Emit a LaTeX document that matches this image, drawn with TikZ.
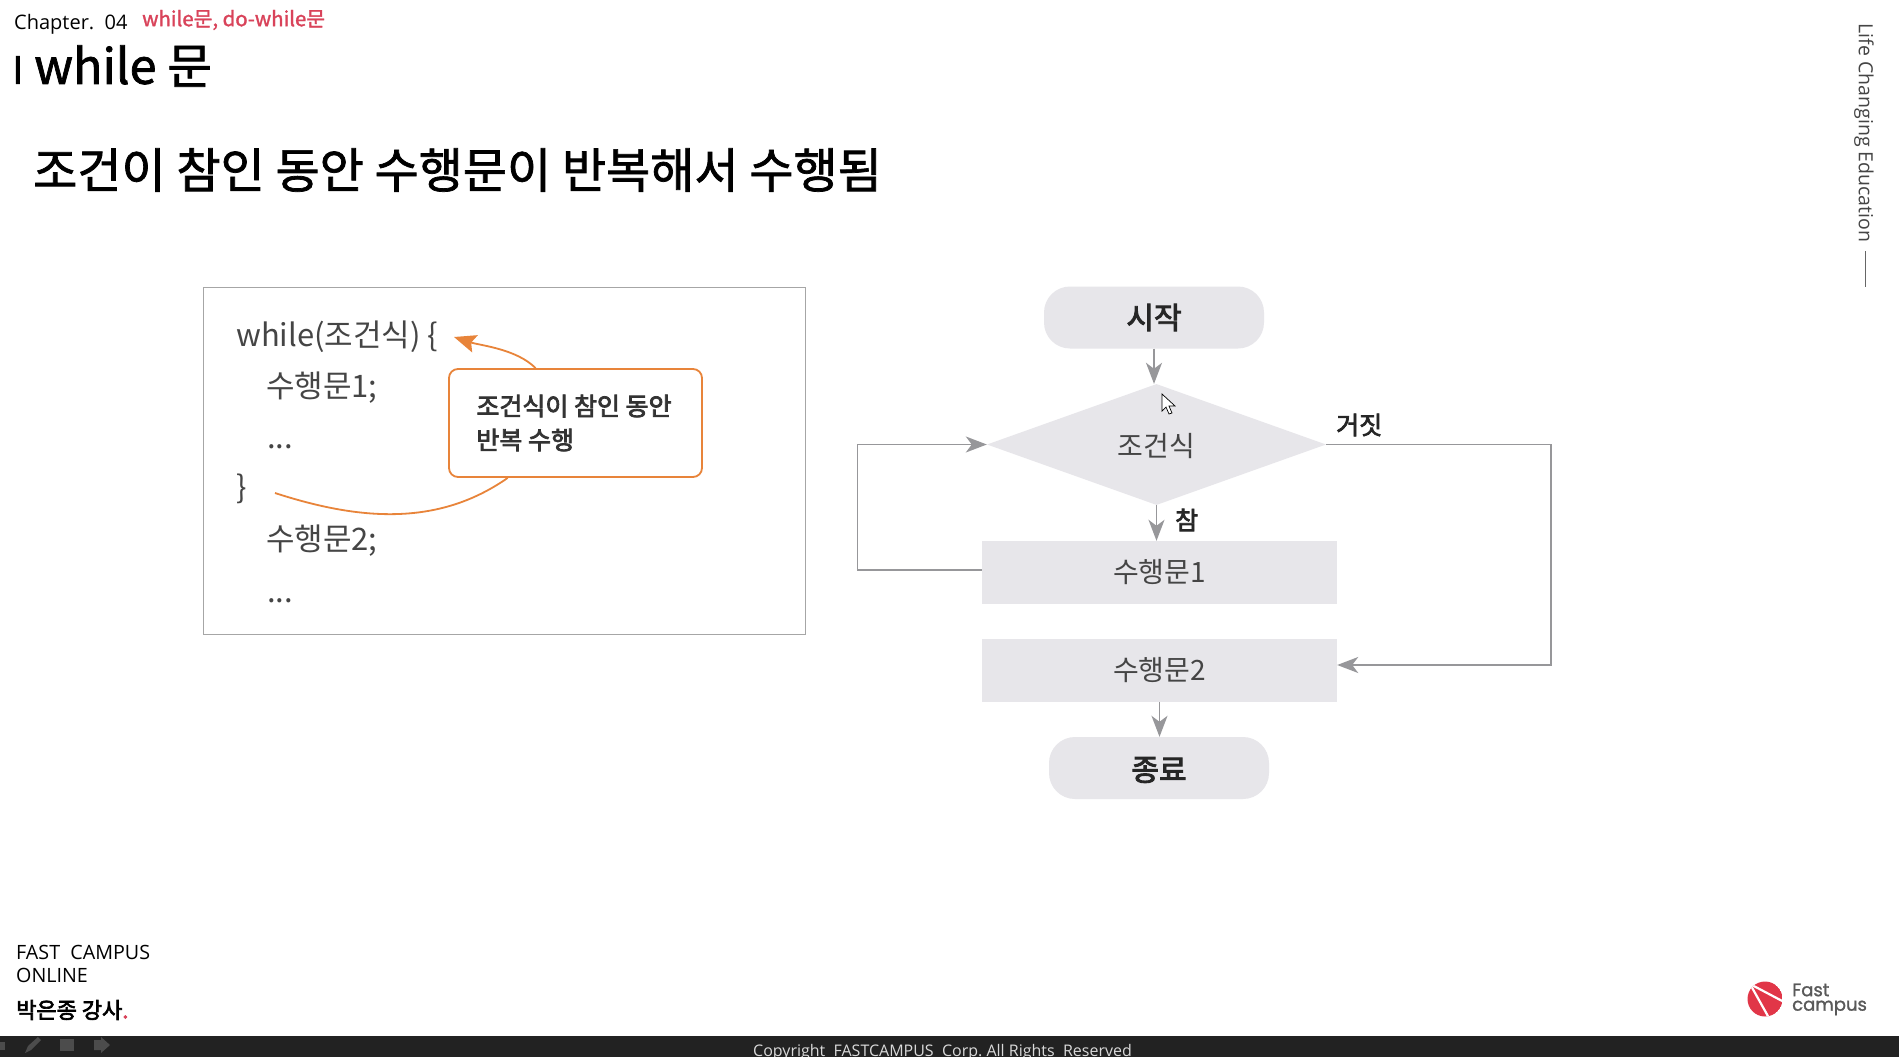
\documentclass[tikz,border=0pt]{standalone}
\usepackage{fontspec}
\setmainfont{Noto Sans CJK KR}
\newfontfamily\lightfont{Open Sans}
\newfontfamily\logofont{Poppins}[FakeBold=1.2]
\newfontfamily\mediumfont{Noto Sans CJK KR}[FakeBold=1.5]
\newfontfamily\semifont{Noto Sans CJK KR}[FakeBold=3]
\usetikzlibrary{shapes.geometric,arrows.meta}
\definecolor{boxgray}{HTML}{E7E6EA}
\definecolor{linegray}{HTML}{97979A}
\definecolor{codegray}{HTML}{454545}
\definecolor{calloutorange}{HTML}{E8843A}
\definecolor{titlered}{HTML}{D9435A}
\definecolor{barblack}{HTML}{222222}
\newcommand{\sz}[1]{\fontsize{#1}{#1}\selectfont}
\newcommand{\low}[1]{\raisebox{-2pt}[\height][\depth]{#1}}
\begin{document}
\begin{tikzpicture}[x=1pt,y=-1pt]
	\tikzset{plain/.style={inner sep=0pt, anchor=west}}
	\tikzset{code/.style={plain, text=codegray, font=\sz{31}}}
	\tikzset{terminal/.style={fill=boxgray, rounded corners=26pt, minimum width=220pt, minimum height=62pt, inner sep=0pt, font=\semifont\sz{30}, text=black!85}}
	\tikzset{stmt/.style={fill=boxgray, minimum width=355pt, minimum height=63pt, inner sep=0pt, font=\sz{28}, text=codegray}}
	\tikzset{flow/.style={draw=linegray, line width=1.6pt, -{Stealth[length=21pt,width=16pt,inset=6pt]}}}
	\tikzset{curved/.style={draw=calloutorange, line width=1.8pt}}
	\useasboundingbox (0,0) rectangle (1899,1057);
	\fill[white] (0,0) rectangle (1899,1057);
%% Header
	\node[plain] (chapter) at (14,24) {\lightfont\sz{20}Chapter.\ \ 04};
	\node[plain, text=titlered] (subject) at (142,20) {\mediumfont\sz{20.4}while문, do-while문};
	\node[plain] (title) at (12,66) {\mediumfont\sz{38}I\sz{48.5} while 문};
	\node[plain] (heading) at (33,170) {\mediumfont\sz{48}조건이 참인 동안 수행문이 반복해서 수행됨};
	\node[plain, rotate=-90, anchor=north, text=codegray] (slogan) at (1874,133) {\lightfont\sz{19.5}Life Changing Education};
	\draw[black!60, line width=1pt] (1865,251) -- (1865,287);
%% Code box
	\node[draw=black!35, line width=1.6pt, minimum width=602pt, minimum height=347pt, inner sep=0pt] (frame) at (504.5,461) {};
	\node[code] (c1) at (236,337) {while(조건식) \{};
	\node[code] (c2) at (266,388) {수행문1;};
	\node[code] (c3) at (267,447) {...};
	\node[code] (c4) at (236,489) {\}};
	\node[code] (c5) at (266,541) {수행문2;};
	\node[code] (c6) at (267,601) {...};
	\node[draw=calloutorange, fill=white, line width=1.8pt, rounded corners=9pt, minimum width=253pt, minimum height=108pt, inner sep=0pt, align=left, font=\semifont\sz{25}, text=black!80] (callout) at (575.5,423) {\hspace{-3pt}조건식이 참인 동안\\[9pt]\hspace{-3pt}반복 수행};
	\coordinate (loophead) at (454,337);
	\coordinate (loopend) at (275,493);
	\path (callout.126) edge[curved, -{Stealth[length=22pt,width=18pt,inset=4pt]}, out=135, in=-18, looseness=.8] (loophead);
	\path (callout.219.5) edge[curved, out=-145, in=-18, looseness=.95] (loopend);
%% Flowchart
	\node[terminal] (start) at (1154,317.5) {시작};
	\node[diamond, aspect=2.8, fill=boxgray, minimum width=339pt, minimum height=121pt, inner sep=0pt, font=\sz{28}, text=codegray] (cond) at (1156.5,444.5) {\low{조건식}};
	\node[stmt] (body1) at (1159.5,572.5) {수행문1};
	\node[stmt] (body2) at (1159.5,670.5) {수행문2};
	\node[terminal] (finish) at (1159,768) {\low{종료}};
	\node[plain, font=\semifont\sz{25}, text=black!85] (nolabel) at (1336,425) {거짓};
	\node[plain, font=\semifont\sz{25}, text=black!85] (yeslabel) at (1175,520) {참};
	\coordinate (backbottom) at (857.5,570);
	\coordinate (backtop) at (857.5,444.5);
	\coordinate (falsetop) at (1551,444.5);
	\coordinate (falsebottom) at (1551,665);
%Edges
	\path (start) edge[flow] (start |- cond.north);
	\path (cond.south) edge[flow] (cond.south |- body1.north);
	\path (body2.south) edge[flow] (body2.south |- finish.north);
	\draw [flow] (body1.west |- backbottom) -- (backbottom) -- (backtop) -- (cond.west);
	\draw [flow] (cond.east) -- (falsetop) -- (falsebottom) -- (body2.east |- falsebottom);
%% Cursor
	\draw[black, fill=white, line width=.7pt] (1162,394) -- (1162,411) -- (1166,407) -- (1169,414) -- (1172,413) -- (1169,406) -- (1175,406) -- cycle;
%% Footer
	\node[plain] (campus) at (16,952) {\lightfont\sz{19.7}FAST\ \ CAMPUS};
	\node[plain] (online) at (16,975) {\lightfont\sz{19.7}ONLINE};
	\node[plain] (teacher) at (16,1010) {\semifont\sz{22}박은종 강사\textcolor{titlered}{.}};
	\fill[barblack] (0,1035.5) rectangle (1899,1057);
	\node[plain, text=white!85!black] (copyright) at (753,1052) {\lightfont\sz{16}Copyright\ \ FASTCAMPUS\ \ Corp.\ All\ Rights\ \ Reserved};
	% toolbar icons
	\fill[black!70] (0,1042) rectangle (5,1050);
	\fill[black!70] (25,1053) -- (28,1046) -- (38,1037) -- (41,1040) -- (31,1050) -- cycle;
	\fill[black!70] (60,1039) rectangle (74,1051);
	\fill[black!70] (94,1040) -- (101,1040) -- (101,1037) -- (110,1045) -- (101,1053) -- (101,1050) -- (94,1050) -- cycle;
%% Logo
	\begin{scope}
		\clip (1765,999) circle (17.5);
		\fill[titlered!80!red] (1765,999) circle (17.5);
		\draw[white, line width=2.2pt] (1750,984) -- (1786,1003);
		\draw[white, line width=2.2pt] (1750,984) -- (1769,1018);
	\end{scope}
	\node[plain, text=black!65] (logofast) at (1792,990) {\logofont\sz{18}Fast};
	\node[plain, text=black!65] (logocampus) at (1792,1008) {\logofont\sz{18}campus};
\end{tikzpicture}
\end{document}
